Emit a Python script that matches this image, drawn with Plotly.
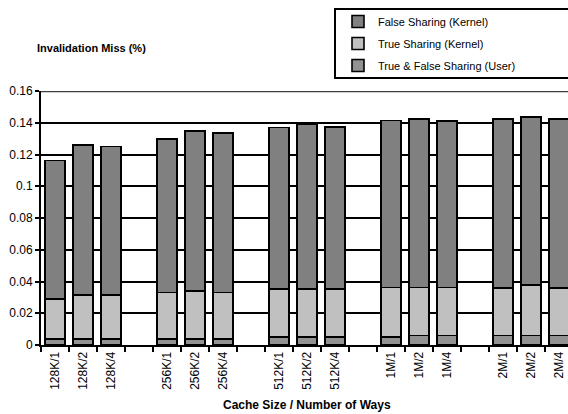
import plotly.graph_objects as go

categories = ["128K/1", "128K/2", "128K/4", " ",
              "256K/1", "256K/2", "256K/4", "  ",
              "512K/1", "512K/2", "512K/4", "   ",
              "1M/1", "1M/2", "1M/4", "    ",
              "2M/1", "2M/2", "2M/4"]

user_sharing = [0.0038, 0.0038, 0.0038, None,
                0.0038, 0.0038, 0.0038, None,
                0.0050, 0.0050, 0.0050, None,
                0.0050, 0.0060, 0.0060, None,
                0.0060, 0.0060, 0.0060]
true_sharing_kernel = [0.0252, 0.0277, 0.0277, None,
                       0.0292, 0.0304, 0.0292, None,
                       0.0303, 0.0303, 0.0303, None,
                       0.0311, 0.0301, 0.0301, None,
                       0.0300, 0.0318, 0.0300]
false_sharing_kernel = [0.0871, 0.0945, 0.0935, None,
                        0.0968, 0.1006, 0.1005, None,
                        0.1018, 0.1039, 0.1020, None,
                        0.1052, 0.1063, 0.1050, None,
                        0.1064, 0.1059, 0.1064]

y_ticks = [0, 0.02, 0.04, 0.06, 0.08, 0.1, 0.12, 0.14, 0.16]
y_tick_text = ["0", "0.02", "0.04", "0.06", "0.08", "0.1", "0.12", "0.14", "0.16"]

FONT = "Liberation Sans, Arial, sans-serif"
line = dict(color="black", width=1.6)

fig = go.Figure()
fig.add_trace(go.Bar(x=categories, y=user_sharing, name="True & False Sharing (User)",
                     legendgroup="c", legendrank=3, marker=dict(color="#929292", line=line)))
fig.add_trace(go.Bar(x=categories, y=true_sharing_kernel, name="True Sharing (Kernel)",
                     legendgroup="b", legendrank=2, marker=dict(color="#c0c0c0", line=line)))
fig.add_trace(go.Bar(x=categories, y=false_sharing_kernel, name="False Sharing (Kernel)",
                     legendgroup="a", legendrank=1, marker=dict(color="#808080", line=line)))

W, H = 568, 414
L, T, B = 41, 91, 69
pw = W - L
ph = H - T - B

def px_x(p):
    return (p - L) / pw

def px_y(p):
    return 1 + (T - p) / ph

fig.update_layout(
    width=W, height=H,
    margin=dict(l=L, r=0, t=T, b=B, autoexpand=False),
    barmode="stack",
    bargap=0.29,
    plot_bgcolor="white",
    paper_bgcolor="white",
    font=dict(family=FONT, color="black", size=11),
    showlegend=True,
    legend=dict(
        x=px_x(338), y=px_y(7), xanchor="left", yanchor="top",
        traceorder="grouped",
        tracegroupgap=3,
        bgcolor="rgba(0,0,0,0)",
        font=dict(family=FONT, size=11),
        itemwidth=30,
    ),
    xaxis=dict(
        type="category",
        range=[-0.5, 18.32],
        tickson="boundaries",
        ticks="outside", ticklen=5, tickwidth=2, tickcolor="black",
        showgrid=False,
        showline=True, linecolor="black", linewidth=2,
        tickangle=-90,
        tickfont=dict(family=FONT, size=12),
    ),
    yaxis=dict(
        range=[0, 0.16],
        tickvals=y_ticks, ticktext=y_tick_text,
        ticks="outside", ticklen=4, tickwidth=2, tickcolor="black",
        showgrid=True, gridcolor="black", gridwidth=1.6,
        zeroline=False,
        showline=True, linecolor="black", linewidth=2,
        tickfont=dict(family=FONT, size=12),
    ),
    shapes=[
        dict(type="line", xref="paper", yref="y", x0=0, x1=1, y0=0.16, y1=0.16,
             line=dict(color="#404040", width=2.5), layer="above"),
        dict(type="rect", xref="paper", yref="paper",
             x0=px_x(335), x1=1.05, y0=px_y(78), y1=px_y(9),
             line=dict(color="black", width=2), fillcolor="rgba(0,0,0,0)"),
    ],
    annotations=[
        dict(text="<b>Invalidation Miss (%)</b>", xref="paper", yref="paper",
             x=px_x(35), y=px_y(48), xanchor="left", yanchor="middle",
             showarrow=False, font=dict(family=FONT, size=11)),
        dict(text="<b>Cache Size / Number of Ways</b>", xref="paper", yref="paper",
             x=px_x(307), y=px_y(405), xanchor="center", yanchor="middle",
             showarrow=False, font=dict(family=FONT, size=12)),
    ],
)

fig.write_html("out.html",
               config={"displayModeBar": False},
               post_script="document.body.style.margin='0';document.body.style.padding='0';")
